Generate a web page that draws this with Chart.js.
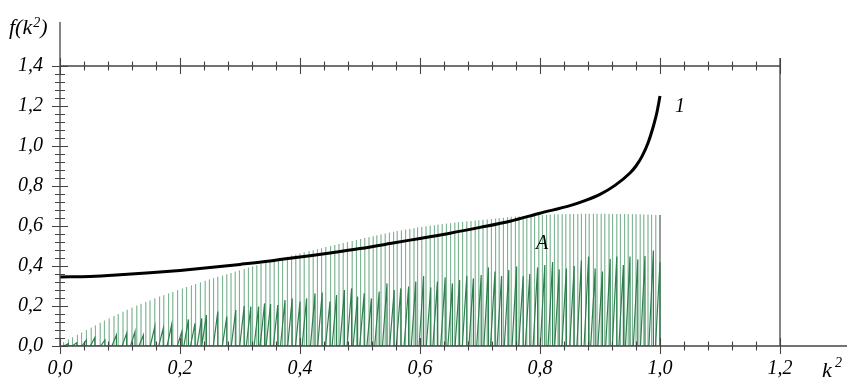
<!DOCTYPE html>
<html>
<head>
<meta charset="utf-8">
<script src="https://cdn.jsdelivr.net/npm/chart.js@4.4.0/dist/chart.umd.min.js"></script>
<style>
  html, body { margin: 0; padding: 0; background: #fff; }
  canvas { display: block; }
</style>
</head>
<body>
<canvas id="chart" width="847" height="380"></canvas>
<script>
// tick labels (comma decimals, as in the original)
const xTickLabels = ['0,0', '0,2', '0,4', '0,6', '0,8', '1,0', '1,2'];
const yTickLabels = ['0,0', '0,2', '0,4', '0,6', '0,8', '1,0', '1,2', '1,4'];

// curve 1
const curveX = [0, 0.05, 0.1, 0.15, 0.2, 0.25, 0.3, 0.35, 0.4, 0.45, 0.5, 0.55, 0.6, 0.65, 0.7, 0.75,
  0.8, 0.85, 0.875, 0.9, 0.925, 0.95, 0.96, 0.97, 0.98, 0.99, 0.995, 1.0];
const curveY = [0.345, 0.348, 0.356, 0.366, 0.378, 0.392, 0.408, 0.425, 0.445, 0.465, 0.487, 0.512, 0.538, 0.564, 0.593, 0.624,
  0.664, 0.702, 0.727, 0.758, 0.803, 0.865, 0.9, 0.948, 1.015, 1.11, 1.17, 1.25];

// A: tall light spikes
const spikeX = [
  0.006, 0.014, 0.021, 0.029, 0.036, 0.044, 0.052, 0.059, 0.067, 0.074, 0.082, 0.090, 0.097, 0.105, 0.112, 0.120,
  0.128, 0.135, 0.143, 0.150, 0.158, 0.166, 0.173, 0.181, 0.188, 0.196, 0.204, 0.211, 0.219, 0.226, 0.234, 0.242, 0.249,
  0.256, 0.263, 0.271, 0.278, 0.285, 0.292, 0.299, 0.307, 0.314, 0.321, 0.328, 0.335, 0.343, 0.350, 0.357, 0.364,
  0.371, 0.379, 0.386, 0.393, 0.400, 0.407, 0.415, 0.422, 0.429, 0.436, 0.443, 0.451, 0.458, 0.465, 0.472, 0.479,
  0.487, 0.494, 0.501,
  0.508, 0.515, 0.522, 0.528, 0.535, 0.542, 0.549, 0.556, 0.562, 0.569, 0.576, 0.583, 0.590, 0.596, 0.603, 0.610,
  0.617, 0.624, 0.630, 0.637, 0.644, 0.651, 0.658, 0.664, 0.671, 0.678, 0.685, 0.692, 0.698, 0.705, 0.712, 0.719,
  0.726, 0.732, 0.739, 0.746,
  0.752, 0.759, 0.765, 0.772, 0.778, 0.785, 0.791, 0.798, 0.804, 0.811, 0.817, 0.824, 0.830, 0.837, 0.843, 0.850,
  0.856, 0.863, 0.869, 0.876, 0.882, 0.889, 0.895, 0.902, 0.908, 0.915, 0.921, 0.928, 0.934, 0.941, 0.947, 0.954,
  0.960, 0.967, 0.973, 0.980, 0.986, 0.993, 1.0
];
const spikeY = [
  0.020, 0.033, 0.044, 0.056, 0.067, 0.080, 0.092, 0.103, 0.116, 0.127, 0.138, 0.150, 0.160, 0.171, 0.181, 0.192,
  0.202, 0.211, 0.220, 0.228, 0.238, 0.247, 0.254, 0.263, 0.270, 0.279, 0.288, 0.295, 0.303, 0.310, 0.318, 0.326, 0.333,
  0.339, 0.346, 0.352, 0.359, 0.365, 0.372, 0.378, 0.385, 0.392, 0.398, 0.404, 0.410, 0.417, 0.423, 0.429, 0.434,
  0.440, 0.446, 0.452, 0.457, 0.463, 0.468, 0.474, 0.479, 0.484, 0.489, 0.495, 0.500, 0.505, 0.510, 0.515, 0.520,
  0.525, 0.530, 0.535,
  0.540, 0.544, 0.549, 0.553, 0.558, 0.562, 0.567, 0.571, 0.575, 0.578, 0.582, 0.586, 0.589, 0.593, 0.596, 0.599,
  0.602, 0.604, 0.607, 0.609, 0.612, 0.614, 0.617, 0.619, 0.621, 0.623, 0.625, 0.627, 0.629, 0.631, 0.633, 0.635,
  0.637, 0.639, 0.641, 0.644,
  0.646, 0.647, 0.648, 0.650, 0.651, 0.652, 0.653, 0.655, 0.655, 0.656, 0.657, 0.658, 0.658, 0.659, 0.659, 0.660,
  0.660, 0.660, 0.661, 0.661, 0.661, 0.661, 0.661, 0.661, 0.661, 0.661, 0.660, 0.660, 0.660, 0.660, 0.660, 0.659,
  0.659, 0.658, 0.657, 0.657, 0.656, 0.655, 0.655
];

// A: darker sawtooth peaks
const sawX = [
  0.014, 0.028, 0.044, 0.058, 0.075, 0.094, 0.111, 0.125, 0.139, 0.158, 0.172, 0.186, 0.203, 0.214, 0.225, 0.236,
  0.244, 0.263, 0.278, 0.293, 0.307, 0.318, 0.331, 0.341, 0.351, 0.363, 0.375, 0.387, 0.400, 0.411, 0.425, 0.437,
  0.450, 0.461, 0.474, 0.486,
  0.496, 0.507, 0.519, 0.532, 0.545, 0.557, 0.568, 0.581, 0.593, 0.606, 0.618, 0.629, 0.642, 0.654, 0.666, 0.678,
  0.689, 0.702, 0.714, 0.725, 0.736, 0.748,
  0.761, 0.772, 0.783, 0.796, 0.808, 0.821, 0.832, 0.844, 0.857, 0.869, 0.881, 0.892, 0.904, 0.917, 0.928, 0.939,
  0.950, 0.963, 0.975, 0.989, 1.0
];
const sawY = [
  0.012, 0.017, 0.030, 0.042, 0.030, 0.055, 0.063, 0.072, 0.055, 0.097, 0.088, 0.105, 0.072, 0.133, 0.113, 0.138,
  0.155, 0.172, 0.147, 0.180, 0.200, 0.197, 0.197, 0.213, 0.210, 0.205, 0.230, 0.238, 0.222, 0.238, 0.263, 0.267,
  0.222, 0.255, 0.280, 0.288,
  0.247, 0.263, 0.238, 0.272, 0.313, 0.280, 0.288, 0.297, 0.322, 0.350, 0.293, 0.322, 0.343, 0.313, 0.330, 0.350,
  0.338, 0.355, 0.393, 0.372, 0.350, 0.380,
  0.397, 0.350, 0.360, 0.393, 0.405, 0.420, 0.383, 0.388, 0.400, 0.427, 0.447, 0.388, 0.372, 0.435, 0.447, 0.405,
  0.447, 0.433, 0.450, 0.477, 0.420
];
const sawRise = 0.0075; // width of each rising stroke, in k^2

const serif = "'Liberation Serif', 'Times New Roman', serif";

function isMajor(v) {
  return Math.abs(v / 0.2 - Math.round(v / 0.2)) < 1e-6;
}

let spikePts = [];
spikeX.forEach((x, i) => {
  spikePts.push({ x: x, y: 0 }, { x: x, y: spikeY[i] }, { x: x, y: 0 });
});
let sawPts = [];
sawX.forEach((x, i) => {
  sawPts.push({ x: x - sawRise, y: 0 }, { x: x, y: sawY[i] }, { x: x, y: 0 });
});
let curvePts = curveX.map((x, i) => ({ x: x, y: curveY[i] }));

const axesPlugin = {
  id: 'axes',
  afterDatasetsDraw(chart) {
    const ctx = chart.ctx;
    const a = chart.chartArea;
    const xs = chart.scales.x;
    const ys = chart.scales.y;
    ctx.save();
    ctx.strokeStyle = '#444';
    ctx.lineWidth = 1.3;
    ctx.beginPath();
    ctx.moveTo(a.left, a.bottom);
    ctx.lineTo(chart.width, a.bottom);
    ctx.moveTo(a.left, a.bottom);
    ctx.lineTo(a.left, 22);
    ctx.moveTo(a.left, a.top);
    ctx.lineTo(a.right, a.top);
    ctx.moveTo(a.right, a.top - 8);
    ctx.lineTo(a.right, a.bottom);
    ctx.stroke();

    ctx.lineWidth = 1.1;
    ctx.beginPath();
    xs.ticks.forEach(t => {
      const px = Math.round(xs.getPixelForValue(t.value)) + 0.5;
      const len = isMajor(t.value) ? 8 : 4.5;
      ctx.moveTo(px, a.bottom - len);
      ctx.lineTo(px, a.bottom + len);
      ctx.moveTo(px, a.top - len);
      ctx.lineTo(px, a.top + len);
    });
    ys.ticks.forEach(t => {
      const py = Math.round(ys.getPixelForValue(t.value)) + 0.5;
      const len = isMajor(t.value) ? 8 : 5;
      ctx.moveTo(a.left - len, py);
      ctx.lineTo(a.left + len, py);
    });
    ctx.stroke();

    // axis names and curve labels
    ctx.fillStyle = '#000';
    ctx.textBaseline = 'alphabetic';
    ctx.font = 'italic 22px ' + serif;
    ctx.fillText('f(k', 9, 34);
    let w = ctx.measureText('f(k').width;
    ctx.font = 'italic 14px ' + serif;
    ctx.fillText('2', 9 + w + 1, 27);
    ctx.font = 'italic 22px ' + serif;
    ctx.fillText(')', 9 + w + 8, 34);

    ctx.fillText('k', 822, 377);
    ctx.font = 'italic 14px ' + serif;
    ctx.fillText('2', 835, 367);

    ctx.font = 'italic 20px ' + serif;
    ctx.fillText('1', 675, 112);
    ctx.fillText('A', 536, 249);
    ctx.restore();
  }
};

const tickFont = { family: serif, size: 20, style: 'italic' };

new Chart(document.getElementById('chart'), {
  type: 'line',
  data: {
    datasets: [
      {
        label: '1',
        data: curvePts,
        borderColor: '#000',
        borderWidth: 3,
        pointRadius: 0,
        cubicInterpolationMode: 'monotone',
      },
      {
        label: 'A saw',
        data: sawPts,
        borderColor: '#2f7f4f',
        borderWidth: 1.2,
        pointRadius: 0,
        tension: 0,
      },
      {
        label: 'A',
        data: spikePts,
        borderColor: 'rgba(47, 135, 80, 0.42)',
        borderWidth: 1,
        pointRadius: 0,
        tension: 0,
        segment: {
          borderColor: c => (c.p0.parsed.x > 0.999 ? 'rgba(110,110,110,0.9)' : undefined),
        },
      },
    ],
  },
  options: {
    responsive: false,
    animation: false,
    devicePixelRatio: 1,
    layout: { padding: { left: 0, right: 67, top: 66, bottom: 0 } },
    plugins: {
      legend: { display: false },
      tooltip: { enabled: false },
    },
    scales: {
      x: {
        type: 'linear',
        min: 0,
        max: 1.2,
        grid: { display: false, drawTicks: false },
        border: { display: false },
        ticks: {
          stepSize: 0.04,
          autoSkip: false,
          maxRotation: 0,
          minRotation: 0,
          padding: 11,
          color: '#000',
          font: tickFont,
          callback: v => (isMajor(v) ? xTickLabels[Math.round(v / 0.2)] : ''),
        },
        afterFit: s => { s.height = 34; },
      },
      y: {
        type: 'linear',
        min: 0,
        max: 1.4,
        grid: { display: false, drawTicks: false },
        border: { display: false },
        ticks: {
          stepSize: 0.04,
          autoSkip: false,
          padding: 17,
          color: '#000',
          font: tickFont,
          callback: v => (isMajor(v) ? yTickLabels[Math.round(v / 0.2)] : ''),
        },
        afterFit: s => { s.width = 60; },
      },
    },
  },
  plugins: [axesPlugin],
});
</script>
</body>
</html>
